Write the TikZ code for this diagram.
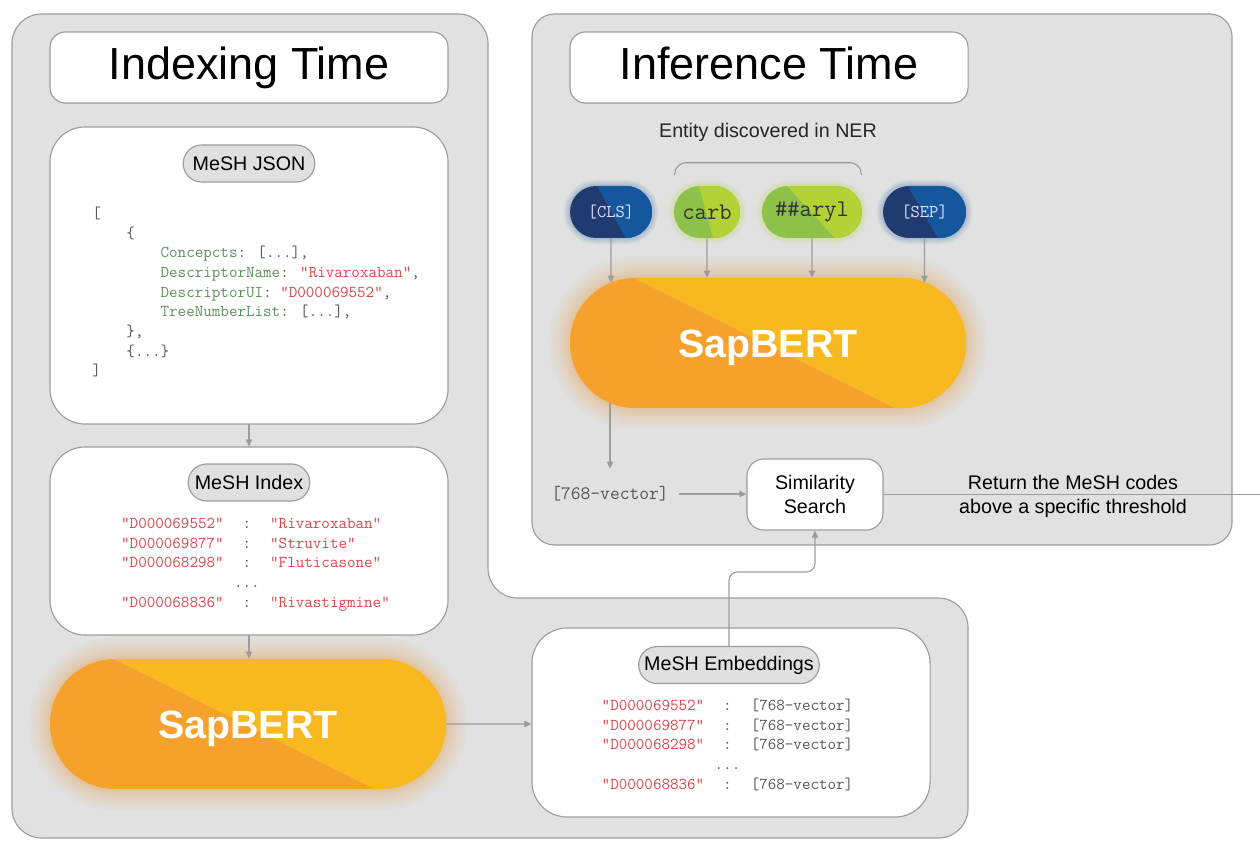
\documentclass[tikz,border=0pt]{standalone}
\usepackage{fontspec}
\setmainfont{Liberation Sans}
\usetikzlibrary{calc,arrows.meta,shapes.misc}
\definecolor{regiongrey}{HTML}{E1E1E1}
\definecolor{edgegrey}{HTML}{9C9C9C}
\definecolor{taggrey}{HTML}{E0E0E0}
\definecolor{codegrey}{HTML}{555555}
\definecolor{keygreen}{HTML}{5E8F5E}
\definecolor{strred}{HTML}{D9474C}
\definecolor{orangeL}{HTML}{F5A12B}
\definecolor{orangeR}{HTML}{F7B91F}
\definecolor{orangeglow}{HTML}{EE9A35}
\definecolor{blueL}{HTML}{1F3B70}
\definecolor{blueR}{HTML}{14579E}
\definecolor{greenL}{HTML}{8DC14A}
\definecolor{greenR}{HTML}{B4D236}
\newcommand\jind{\hphantom{xxxx}}
\newcommand\jkey[1]{\textcolor{keygreen}{#1}}
\newcommand\jstr[1]{\textcolor{strred}{#1}}
\newcommand\jcol{\textcolor{codegrey}{:}}
\newcommand\codefont{\ttfamily\fontsize{11.8}{14}\selectfont}
\tikzset{
  region/.style={fill=regiongrey, draw=edgegrey, line width=0.8pt},
  card/.style={draw=edgegrey, fill=white, line width=0.8pt, rounded corners=25pt},
  titlebox/.style={card, rounded corners=11pt, minimum width=9.95cm, minimum height=1.775cm,
    text height=24pt, text depth=6.5pt, font=\fontsize{32}{36}\selectfont},
  tag/.style={rounded rectangle, draw=edgegrey, fill=taggrey, line width=0.8pt, minimum height=0.925cm, font=\fontsize{14}{16}\selectfont},
  line/.style={draw=edgegrey, line width=0.8pt},
  conn/.style={line, -{Triangle[length=5pt,width=4.5pt]}},
  splitpill/.style n args={4}{rounded rectangle, minimum height=1.3cm, inner sep=0pt,
    path picture={
      \fill[#1] (path picture bounding box.south west) rectangle (path picture bounding box.north east);
      \fill[#2] ($(path picture bounding box.north west)!#3!(path picture bounding box.north east)$)
        -- (path picture bounding box.north east) -- (path picture bounding box.south east)
        -- ($(path picture bounding box.south west)!#4!(path picture bounding box.south east)$) -- cycle;}},
  glow/.style={preaction={draw=#1, line width=30pt, opacity=0.035},
    preaction={draw=#1, line width=26pt, opacity=0.035},
    preaction={draw=#1, line width=22pt, opacity=0.04},
    preaction={draw=#1, line width=18pt, opacity=0.045},
    preaction={draw=#1, line width=14pt, opacity=0.05},
    preaction={draw=#1, line width=10pt, opacity=0.06},
    preaction={draw=#1, line width=6pt, opacity=0.07},
    preaction={draw=#1, line width=3pt, opacity=0.08}},
  smallglow/.style={preaction={draw=#1, line width=9pt, opacity=0.05},
    preaction={draw=#1, line width=7pt, opacity=0.06},
    preaction={draw=#1, line width=5pt, opacity=0.07},
    preaction={draw=#1, line width=3pt, opacity=0.08}},
  sapbert/.style={splitpill={orangeL}{orangeR}{0.16}{0.82}, glow=orangeglow, minimum width=9.9cm, minimum height=3.25cm,
    text height=20pt, text depth=0pt, font=\bfseries\fontsize{28}{32}\selectfont, text=white},
}
\begin{document}
\begin{tikzpicture}[x=0.025cm, y=-0.025cm, line join=round, line cap=round]
\useasboundingbox (0,0) rectangle (1260,841);
% Vùng xám
\path[region, rounded corners=21pt] (12,14) -- (488,14) -- (488,598) -- (968,598) -- (968,838) -- (12,838) -- cycle;
\path[region, rounded corners=16pt] (532,14) rectangle (1232,545);
% Tiêu đề
\node[titlebox] (idxtitle) at (249,67.5) {Indexing Time};
\node[titlebox] (inftitle) at (769,67.5) {Inference Time};
% Cột trái
\node[card, minimum width=9.95cm, minimum height=7.425cm] (json) at (249,275.5) {};
\node[tag, minimum width=3.525cm] (jsontag) at (249,163.5) {MeSH JSON};
\node[anchor=west, align=left, font=\codefont, text=codegrey, inner sep=0pt] (jsoncode) at (92,292) {[\\
\jind\{\\
\jind\jind\jkey{Concepcts}: [...],\\
\jind\jind\jkey{DescriptorName}: \jstr{"Rivaroxaban"},\\
\jind\jind\jkey{DescriptorUI}: \jstr{"D000069552"},\\
\jind\jind\jkey{TreeNumberList}: [...],\\
\jind\},\\
\jind\{...\}\\
]};
\node[card, minimum width=9.95cm, minimum height=4.7cm] (index) at (249,541) {};
\node[tag, minimum width=3.275cm] (indextag) at (249,482.5) {MeSH Index};
\node[font=\codefont, text=strred, inner sep=0pt] (indexcode) at (255.5,564) {%
\begin{tabular}{@{}l@{\hspace{13.5pt}}c@{\hspace{13.5pt}}l@{}}
"D000069552" & \jcol & "Rivaroxaban"\\
"D000069877" & \jcol & "Struvite"\\
"D000068298" & \jcol & "Fluticasone"\\
 & \makebox[0pt]{\textcolor{codegrey}{...}} & \\
"D000068836" & \jcol & "Rivastigmine"
\end{tabular}};
\node[sapbert] (sapdown) at (248,724) {SapBERT};
\node[card, minimum width=9.95cm, minimum height=4.725cm] (embed) at (731,722.5) {};
\node[tag, minimum width=4.75cm] (embtag) at (729,665) {MeSH Embeddings};
\node[font=\codefont, text=codegrey, inner sep=0pt] (embcode) at (727.5,746) {%
\begin{tabular}{@{}l@{\hspace{13.5pt}}c@{\hspace{13.5pt}}l@{}}
\jstr{"D000069552"} & : & [768-vector]\\
\jstr{"D000069877"} & : & [768-vector]\\
\jstr{"D000068298"} & : & [768-vector]\\
 & \makebox[0pt]{...} & \\
\jstr{"D000068836"} & : & [768-vector]
\end{tabular}};
% Cột phải
\node[font=\fontsize{14}{16}\selectfont, text=black!85] (entity) at (768,132) {Entity discovered in NER};
\node[splitpill={blueL}{blueR}{0.33}{0.68}, smallglow=blueR, minimum width=2.05cm,
  font=\ttfamily\fontsize{12.8}{14}\selectfont, text=white!88!blue] (cls) at (611,212) {[CLS]};
\node[splitpill={greenL}{greenR}{0.38}{0.59}, smallglow=greenR, minimum width=1.65cm,
  font=\ttfamily\fontsize{17}{19}\selectfont, text=black!80] (carb) at (707,212) {carb};
\node[splitpill={greenL}{greenR}{0.25}{0.73}, smallglow=greenR, minimum width=2.5cm,
  font=\ttfamily\fontsize{17}{19}\selectfont, text=black!80] (aryl) at (812,212) {\#\#aryl};
\node[splitpill={blueL}{blueR}{0.30}{0.66}, smallglow=blueR, minimum width=2.075cm,
  font=\ttfamily\fontsize{12.8}{14}\selectfont, text=white!88!blue] (sep) at (924.5,212) {[SEP]};
\node[sapbert] (sapup) at (768,343) {SapBERT};
\node[font=\ttfamily\fontsize{13.5}{16}\selectfont, text=codegrey] (vec) at (610,494) {[768-vector]};
\node[card, rounded corners=12pt, minimum width=3.4cm, minimum height=1.775cm, align=center,
  font=\fontsize{14}{16.5}\selectfont] (simsearch) at (815,494.5) {Similarity\\Search};
\node[align=center, font=\fontsize{14}{17}\selectfont] (rettext) at (1073,496) {Return the MeSH codes\\above a specific threshold};
\coordinate (outlet) at (1260,494);
% Mũi tên
\draw[conn] (json) -- (index);
\draw[conn] (index.south) -- (index.south |- sapdown.north);
\draw[conn] (sapdown) -- (sapdown -| embed.west);
\draw[conn, rounded corners=6pt] (embtag.north) -- ++(0,-74) -| (simsearch.south);
\draw[line, rounded corners=8pt] ($(carb.west |- carb.north)+(1,-11)$) -- ++(0,-12) -| ($(aryl.east |- aryl.north)+(-1,-11)$);
\foreach \t/\d in {cls/5,carb/0,aryl/0,sep/5}{\draw[conn] (\t) -- ($(\t |- sapup.north)+(0,\d)$);}
\draw[conn] ($(vec |- sapup.south)+(0,-5)$) -- ($(vec.north)+(0,-13)$);
\draw[conn, shorten <=4pt] (vec.east) -- (vec.east -| simsearch.west);
\draw[line] (simsearch) -- (simsearch -| outlet);
\end{tikzpicture}
\end{document}
